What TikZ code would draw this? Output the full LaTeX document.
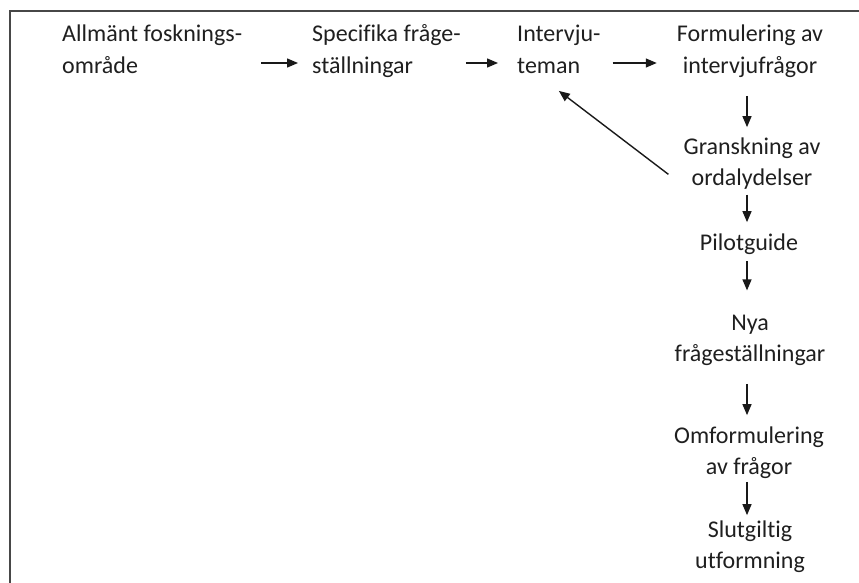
\documentclass[tikz,border=0pt]{standalone}
\usepackage{fontspec}
\setmainfont{Carlito}[Ligatures={CommonOff}]
\usetikzlibrary{arrows.meta,calc}
\begin{document}
\begin{tikzpicture}[x=1pt,y=-1pt,
  lbl/.style={inner sep=0pt, font=\fontsize{24}{31.5}\selectfont, text=black!88},
  lblL/.style={lbl, align=left, anchor=base west},
  lblC/.style={lbl, align=center, anchor=base},
  arr/.style={-{Triangle[length=11pt,width=9pt]}, line width=1.4pt, black!90}
]
\useasboundingbox (0,0) rectangle (859,583);
% open frame: top and left edges only
\draw[line width=1.6pt, black!72] (10,583) -- (10,11) -- (859,11);

% top row (nodes placed by the baseline of their last line)
\node[lblL] (n1) at (62,73.5) {Allmänt fosknings-\\område};
\node[lblL] (n2) at (312,73.5) {Specifika fråge-\\ställningar};
\node[lblL] (n3) at (517,73.5) {Intervju-\\teman};
\node[lblC] (n4) at (750,73.5) {Formulering av\\intervjufrågor};
% right column
\node[lblC] (n5) at (752,185.5) {Granskning av\\ordalydelser};
\node[lblC] (n6) at (749,250) {Pilotguide};
\node[lblC] (n7) at (750,361.5) {Nya\\frågeställningar};
\node[lblC] (n8) at (749,474.5) {Omformulering\\av frågor};
\node[lblC] (n9) at (750,568.5) {Slutgiltig\\utformning};

\coordinate (row) at (0,63);
\coordinate (col) at (747,0);

\draw[arr, shorten <=19pt, shorten >=14pt] (n1.east |- row) -- (n2.west |- row);
\draw[arr, shorten <=5pt,  shorten >=19pt] (n2.east |- row) -- (n3.west |- row);
\draw[arr, shorten <=12pt, shorten >=20pt] (n3.east |- row) -- (n4.west |- row);

\draw[arr, shorten <=18pt, shorten >=10pt] (n4.south -| col) -- (n5.north -| col);
\draw[arr, shorten <=5pt,  shorten >=11pt] (n5.south -| col) -- (n6.north -| col);
\draw[arr, shorten <=7pt,  shorten >=24pt] (n6.south -| col) -- (n7.north -| col);
\draw[arr, shorten <=18pt, shorten >=11pt] (n7.south -| col) -- (n8.north -| col);
\draw[arr, shorten <=3pt,  shorten >=5pt]  (n8.south -| col) -- (n9.north -| col);

% feedback from review back to the themes
\draw[arr] ($(n5.west)+(-15,11)$) -- ($(n3.south)+(0,17)$);
\end{tikzpicture}
\end{document}
